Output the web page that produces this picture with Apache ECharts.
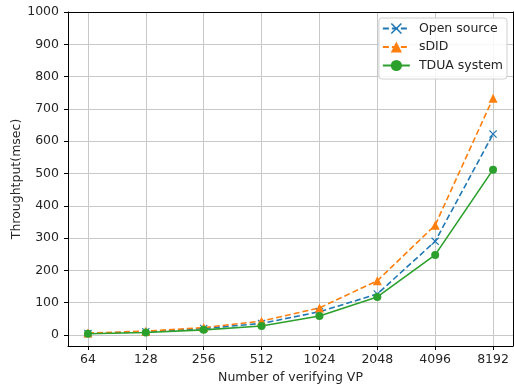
<!DOCTYPE html>
<html><head><meta charset="utf-8">
<script src="https://cdn.jsdelivr.net/npm/echarts@6/dist/echarts.min.js"></script>
<style>html,body{margin:0;padding:0;background:#fff}#c{width:514px;height:384px}</style>
</head><body><div id="c"></div>
<script>
const categories = ['64','128','256','512','1024','2048','4096','8192'];
const openSource = [5, 10, 20, 36, 72, 127, 290, 622];
const sDID = [6, 12, 23, 43, 84, 168, 340, 733];
const tdua = [4, 8, 16, 28, 59, 118, 248, 512];
const yTicks = [0,100,200,300,400,500,600,700,800,900,1000];
const xIdx = categories.map((c,i)=>i);

const FONT = 'DejaVu Sans';
const TXT = '#262626';
const FS = 12.5;
const crossPath = 'path://M0,1L1,0L5,4L9,0L10,1L6,5L10,9L9,10L5,6L1,10L0,9L4,5Z';

function pts(arr){ return arr.map((v,i)=>[i,v]); }

const chart = echarts.init(document.getElementById('c'), null, {renderer:'canvas'});
chart.setOption({
  animation:false,
  backgroundColor:'#fff',
  textStyle:{fontFamily:FONT},
  grid:{left:68,right:1,top:12,bottom:38,containLabel:false,outerBoundsMode:'none'},
  xAxis:[{
    type:'value', min:-0.345, max:7.345,
    name:'Number of verifying VP', nameLocation:'middle', nameGap:25, nameMoveOverlap:false,
    nameTextStyle:{fontFamily:FONT,fontSize:FS,color:TXT},
    axisLine:{show:true,onZero:false,lineStyle:{color:'#000',width:1}},
    axisTick:{show:true,inside:false,length:4,customValues:xIdx,lineStyle:{color:'#000'}},
    axisLabel:{customValues:xIdx,margin:7,fontFamily:FONT,fontSize:FS,color:TXT,
      formatter:(v)=>categories[Math.round(v)]},
    splitLine:{show:true,lineStyle:{color:'#c8c8c8',width:1}}
  },{
    type:'value', min:-0.345, max:7.345, position:'top',
    axisLine:{show:true,onZero:false,lineStyle:{color:'#000',width:1}},
    axisTick:{show:false},axisLabel:{show:false},splitLine:{show:false}
  }],
  yAxis:[{
    type:'value', min:-34, max:1000,
    name:'Throughtput(msec)', nameLocation:'middle', nameGap:45, nameMoveOverlap:false,
    nameTextStyle:{fontFamily:FONT,fontSize:FS,color:TXT},
    axisLine:{show:true,onZero:false,lineStyle:{color:'#000',width:1}},
    axisTick:{show:true,length:4,customValues:yTicks,lineStyle:{color:'#000'}},
    axisLabel:{customValues:yTicks,margin:9,fontFamily:FONT,fontSize:FS,color:TXT,
      formatter:(v)=>String(v)},
    splitLine:{show:true,lineStyle:{color:'#c8c8c8',width:1}}
  },{
    type:'value', min:-34, max:1000, position:'right',
    axisLine:{show:true,onZero:false,lineStyle:{color:'#000',width:1}},
    axisTick:{show:false},axisLabel:{show:false},splitLine:{show:false}
  }],
  legend:{
    right:7, top:18, orient:'vertical',
    backgroundColor:'rgba(255,255,255,0.85)',
    borderColor:'#d0d0d0', borderWidth:1, borderRadius:3,
    padding:[4,4,7,3], itemGap:5.5, itemWidth:27, itemHeight:14,
    textStyle:{fontFamily:FONT,fontSize:FS,color:TXT,padding:[0,0,0,4]},
    data:['Open source','sDID','TDUA system']
  },
  series:[
    {name:'Open source',type:'line',data:pts(openSource),symbol:crossPath,symbolSize:8,
     color:'#1f77b4',lineStyle:{width:1.6,type:[6,3]},itemStyle:{color:'#1f77b4'}},
    {name:'sDID',type:'line',data:pts(sDID),symbol:'triangle',symbolSize:9,
     color:'#ff7f0e',lineStyle:{width:1.6,type:[6,3]},itemStyle:{color:'#ff7f0e'}},
    {name:'TDUA system',type:'line',data:pts(tdua),symbol:'circle',symbolSize:8,
     color:'#2ca02c',lineStyle:{width:1.6,type:'solid'},itemStyle:{color:'#2ca02c'}}
  ]
});
</script></body></html>
